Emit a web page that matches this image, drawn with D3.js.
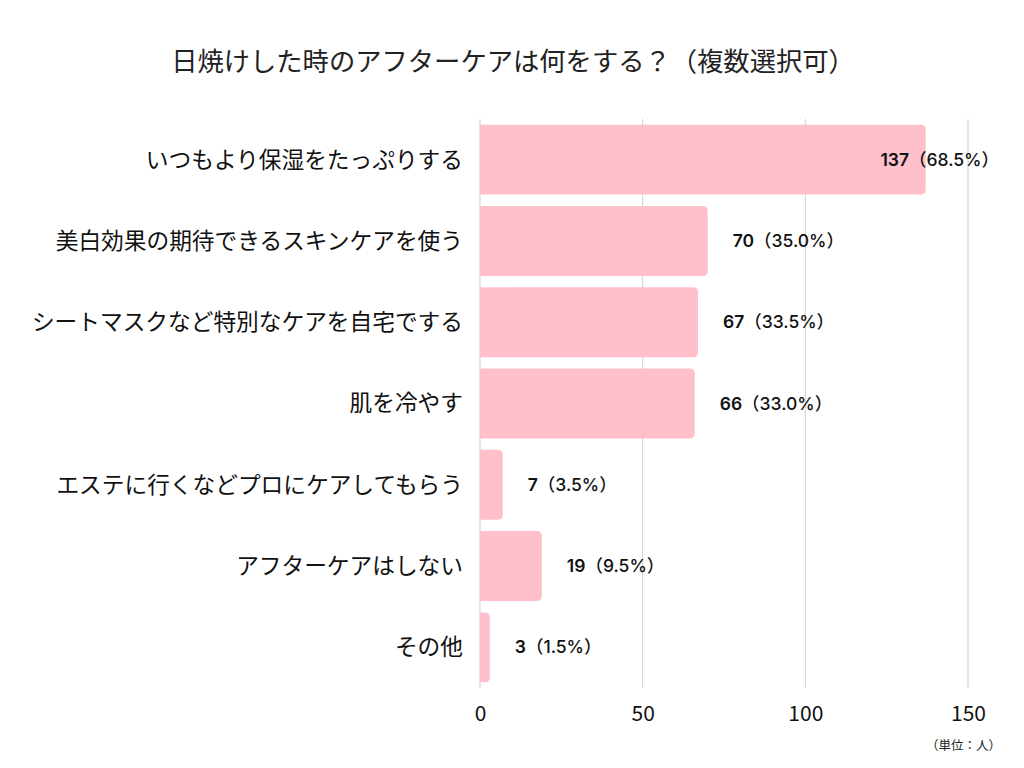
<!DOCTYPE html>
<html><head><meta charset="utf-8">
<script src="https://cdn.jsdelivr.net/npm/d3@7"></script>
<style>body{margin:0;background:#fff}</style>
</head><body>
<svg id="c" width="1024" height="768"></svg>
<script>
const categories = ["いつもより保湿をたっぷりする","美白効果の期待できるスキンケアを使う","シートマスクなど特別なケアを自宅でする","肌を冷やす","エステに行くなどプロにケアしてもらう","アフターケアはしない","その他"];
const values = [137,70,67,66,7,19,3];
const percents = ["68.5%","35.0%","33.5%","33.0%","3.5%","9.5%","1.5%"];
const ticks = [0,50,100,150];
const title = "日焼けした時のアフターケアは何をする？（複数選択可）";
const unit = "（単位：人）";

const svg = d3.select("#c");
const jp = "'Noto Sans CJK JP', sans-serif";
const num = "Inter, Lato, 'Noto Sans CJK JP', sans-serif";
const x = d3.scaleLinear().domain([0,150]).range([480,968]);
const y = d3.scaleBand().domain(categories).range([119,688]).paddingInner(0.14).paddingOuter(0.07);

svg.append("text").attr("x",513).attr("y",71).attr("text-anchor","middle")
  .style("font-family",jp).style("font-size","26.3px").attr("fill","#222").text(title);

svg.append("g").selectAll("line").data(ticks).join("line")
  .attr("x1",d=>x(d)).attr("x2",d=>x(d)).attr("y1",119).attr("y2",688)
  .attr("stroke","#d0d0d0").attr("stroke-width",1);

const r = 5;
svg.append("g").selectAll("path").data(values).join("path")
  .attr("fill","#ffc0cb")
  .attr("d",(d,i)=>{
    const x0=x(0), x1=x(d), y0=y(categories[i]), h=y.bandwidth();
    const rr=Math.min(r,(x1-x0)/2);
    return `M${x0},${y0}H${x1-rr}Q${x1},${y0} ${x1},${y0+rr}V${y0+h-rr}Q${x1},${y0+h} ${x1-rr},${y0+h}H${x0}Z`;
  });

svg.append("g").selectAll("text").data(categories).join("text")
  .attr("x",463).attr("y",d=>y(d)+y.bandwidth()/2).attr("dy","0.35em")
  .attr("text-anchor","end").style("font-family",jp).style("font-size","22.7px").attr("fill","#111").text(d=>d);

const lab = svg.append("g").selectAll("text").data(values).join("text")
  .attr("y",(d,i)=>y(categories[i])+y.bandwidth()/2).attr("dy","0.35em")
  .style("font-family",num).style("font-size","17.5px").style("font-weight","500").attr("fill","#111");
lab.append("tspan").style("font-weight","600").text(d=>d);
lab.append("tspan").text((d,i)=>`（${percents[i]}）`);
lab.each(function(d){
  const w=this.getComputedTextLength();
  let xs=x(d)+25;
  if(xs+w>999) xs=999-w;
  d3.select(this).attr("x",xs);
});

const ax = d3.axisBottom(x).tickValues(ticks).tickSize(0).tickPadding(12);
const g = svg.append("g").attr("transform","translate(0,694)").call(ax);
g.select(".domain").remove();
g.selectAll("text").style("font-family",jp).style("font-size","21px").attr("fill","#111");

svg.append("text").attr("x",1001).attr("y",750).attr("text-anchor","end")
  .style("font-family",jp).style("font-size","12.5px").attr("fill","#222").text(unit);
</script>
</body></html>
